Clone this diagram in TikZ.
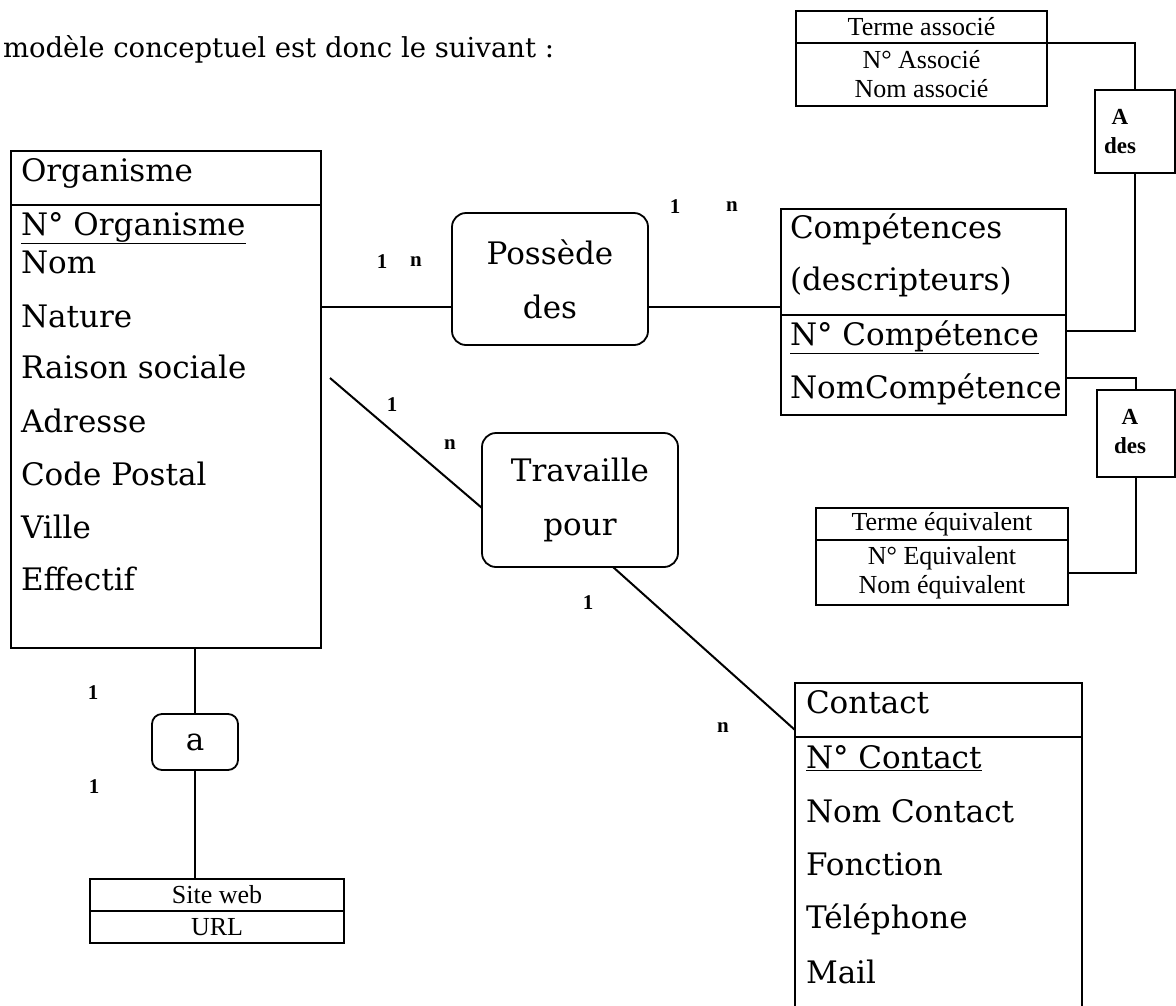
\documentclass[tikz,border=0pt]{standalone}
\usepackage{fontspec}
\setmainfont{DejaVu Serif}
\newfontfamily\grosfamily{DejaVu Serif}
\newfontfamily\petitfont{Liberation Serif}
\newcommand{\grosfont}{\grosfamily\fontsize{31}{54}\selectfont}
\newcommand{\boitefont}{\petitfont\fontsize{26}{29}\selectfont}
\newcommand{\cardfont}{\petitfont\bfseries\fontsize{21}{21}\selectfont}
\newcommand{\adesfont}{\petitfont\bfseries\fontsize{23}{29}\selectfont}

\begin{document}
\begin{tikzpicture}[x=1pt,y=-1pt]
\tikzstyle{every node}=[inner sep=0pt,outer sep=0pt]
\tikzstyle{entite}=[draw,rectangle,line width=1.5pt,anchor=north west]
\tikzstyle{petite}=[entite,font=\boitefont,align=center]
\tikzstyle{assoc}=[draw,rectangle,rounded corners=14pt,line width=1.8pt,font=\grosfont,align=center]
\tikzstyle{attr}=[anchor=base west,font=\grosfont]
\tikzstyle{card}=[font=\cardfont]
\tikzstyle{lien}=[line width=2pt]

\useasboundingbox (0,0) rectangle (1176,1005);

\node[anchor=base west,font=\grosfamily\fontsize{27.5}{27.5}\selectfont] (titre) at (3,57) {modèle conceptuel est donc le suivant :};

% Organisme
\node[entite,minimum width=310,minimum height=54] (org) at (11,151) {};
\node[entite,minimum width=310,minimum height=443] (orgb) at (11,205) {};
\node[attr] (o0) at (21,181) {Organisme};
\node[attr] (o1) at (21,235) {\underline{N° Organisme}};
\node[attr] (o2) at (21,273) {Nom};
\node[attr] (o3) at (21,327) {Nature};
\node[attr] (o4) at (21,378) {Raison sociale};
\node[attr] (o5) at (21,432) {Adresse};
\node[attr] (o6) at (21,485) {Code Postal};
\node[attr] (o7) at (21,538) {Ville};
\node[attr] (o8) at (21,590) {Effectif};

% associations
\node[assoc,minimum width=196,minimum height=132] (possede) at (550,279) {Possède\\des};
\node[assoc,minimum width=196,minimum height=134] (travaille) at (580,500) {Travaille\\pour};
\node[assoc,minimum width=86,minimum height=56,rounded corners=10pt] (rela) at (195,742) {a};

% Site web
\node[petite,minimum width=254,minimum height=32] (site) at (90,879) {Site web};
\node[petite,minimum width=254,minimum height=32] (siteb) at (90,911) {URL};

% Competences
\node[entite,minimum width=285,minimum height=106] (comp) at (781,209) {};
\node[entite,minimum width=285,minimum height=100] (compb) at (781,315) {};
\node[attr] (c0) at (790,238) {Compétences};
\node[attr] (c1) at (790,290) {(descripteurs)};
\node[attr] (c2) at (790,345) {\underline{N° Compétence}};
\node[attr] (c3) at (790,398) {NomCompétence};

% termes
\node[petite,minimum width=251,minimum height=32] (associe) at (796,11) {Terme associé};
\node[petite,minimum width=251,minimum height=63] (associeb) at (796,43) {N° Associé\\Nom associé};
\node[petite,minimum width=252,minimum height=32] (equiv) at (816,508) {Terme équivalent};
\node[petite,minimum width=252,minimum height=65] (equivb) at (816,540) {N° Equivalent\\Nom équivalent};

\node[entite,minimum width=80,minimum height=83] (ades1) at (1095,90) {};
\node[align=center,font=\adesfont] (ta1) at (1120,132) {A\\des};
\node[entite,minimum width=78,minimum height=87] (ades2) at (1097,390) {};
\node[align=center,font=\adesfont] (ta2) at (1130,432) {A\\des};

% Contact
\node[entite,minimum width=287,minimum height=54] (cont) at (795,683) {};
\node[entite,minimum width=287,minimum height=330] (contb) at (795,737) {};
\node[attr] (k0) at (806,713) {Contact};
\node[attr] (k1) at (806,768) {\underline{N° Contact}};
\node[attr] (k2) at (806,822) {Nom Contact};
\node[attr] (k3) at (806,875) {Fonction};
\node[attr] (k4) at (806,928) {Téléphone};
\node[attr] (k5) at (806,983) {Mail};

% liens
\coordinate (y1) at (0,307);
\draw[lien] (orgb.east |- y1) -- (possede.west |- y1);
\draw[lien] (possede.east |- y1) -- (comp.west |- y1);
\coordinate (t0) at (330,378);
\draw[lien] (t0) -- ([yshift=-8]travaille.west);
\draw[lien] ([xshift=33]travaille.south) -- ([yshift=7]cont.south west);
\draw[lien] (orgb.south -| rela.north) -- (rela.north);
\draw[lien] (rela.south) -- (site.north -| rela.south);
\coordinate (y3) at (0,331);
\draw[lien] (compb.east |- y3) -| (ades1.south);
\draw[lien] (ades1.north) |- (associeb.north east);
\coordinate (y4) at (0,378);
\draw[lien] (compb.east |- y4) -| (ades2.north);
\draw[lien] (ades2.south) |- (equivb.east);

% cardinalites
\node[card] (n1) at (382,262) {1};
\node[card] (n2) at (416,262) {n};
\node[card] (n3) at (675,207) {1};
\node[card] (n4) at (732,207) {n};
\node[card] (n5) at (392,405) {1};
\node[card] (n6) at (450,445) {n};
\node[card] (n7) at (588,603) {1};
\node[card] (n8) at (723,728) {n};
\node[card] (n9) at (93,693) {1};
\node[card] (n10) at (94,787) {1};
\end{tikzpicture}
\end{document}
